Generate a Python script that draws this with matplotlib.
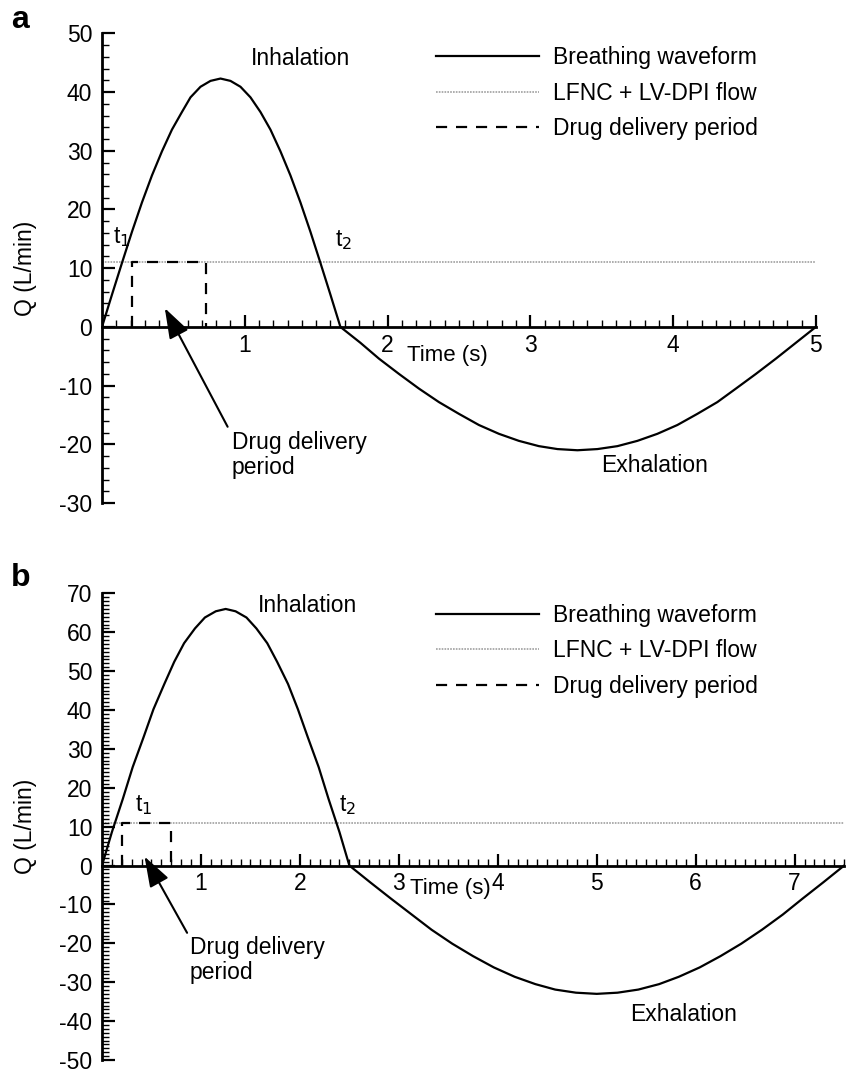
import matplotlib
matplotlib.use("Agg")
import matplotlib.pyplot as plt
from matplotlib.ticker import MultipleLocator
from matplotlib.lines import Line2D

plt.rcParams['font.family'] = ['Liberation Sans', 'DejaVu Sans']
plt.rcParams['axes.unicode_minus'] = False

###############################################################################
# data
# panel a : 5 s breathing cycle
t_a = [0, 0.07, 0.14, 0.21, 0.28, 0.35, 0.42, 0.49, 0.56, 0.62, 0.69, 0.76, 0.83,
       0.9, 0.97, 1.04, 1.11, 1.18, 1.25, 1.32, 1.39, 1.46, 1.53, 1.6, 1.67,
       1.81, 1.94, 2.08, 2.22, 2.36, 2.5, 2.64, 2.78, 2.92, 3.06, 3.19, 3.33,
       3.47, 3.61, 3.75, 3.89, 4.03, 4.17, 4.31, 4.44, 4.58, 4.72, 4.86, 5.0]
q_a = [0, 5.5, 10.9, 16.2, 21.2, 25.8, 29.9, 33.6, 36.6, 39.1, 40.9, 41.9, 42.3,
       41.9, 40.9, 39.1, 36.6, 33.6, 29.9, 25.8, 21.2, 16.2, 10.9, 5.5, 0,
       -2.7, -5.4, -8.0, -10.5, -12.8, -14.8, -16.7, -18.2, -19.4, -20.3, -20.8, -21.0,
       -20.8, -20.3, -19.4, -18.2, -16.7, -14.8, -12.8, -10.5, -8.0, -5.4, -2.7, 0]
box_t_a = [0.21, 0.21, 0.73, 0.73]

# panel b : 7.5 s breathing cycle
t_b = [0, 0.1, 0.21, 0.31, 0.42, 0.52, 0.63, 0.73, 0.83, 0.94, 1.04, 1.15, 1.25,
       1.35, 1.46, 1.56, 1.67, 1.77, 1.88, 1.98, 2.08, 2.19, 2.29, 2.4, 2.5,
       2.71, 2.92, 3.13, 3.33, 3.54, 3.75, 3.96, 4.17, 4.38, 4.58, 4.79, 5.0,
       5.21, 5.42, 5.63, 5.83, 6.04, 6.25, 6.46, 6.67, 6.88, 7.08, 7.29, 7.5]
q_b = [0, 8.6, 17.1, 25.3, 33.0, 40.2, 46.7, 52.4, 57.2, 61.0, 63.8, 65.4, 66.0,
       65.4, 63.8, 61.0, 57.2, 52.4, 46.7, 40.2, 33.0, 25.3, 17.1, 8.6, 0,
       -4.3, -8.5, -12.6, -16.5, -20.1, -23.3, -26.2, -28.6, -30.5, -31.9, -32.7, -33.0,
       -32.7, -31.9, -30.5, -28.6, -26.2, -23.3, -20.1, -16.5, -12.6, -8.5, -4.3, 0]
box_t_b = [0.2, 0.2, 0.7, 0.7]

box_q = [0, 11, 11, 0]
flow = 11

legend_labels = ["Breathing waveform", "LFNC + LV-DPI flow", "Drug delivery period"]

FS = 16.5

###############################################################################
# draw_panel draws one breathing waveform panel
def draw_panel(ax, t, q, box_t, xmax, ylim, ymajor, yminor, xmajor_ticks,
               arrow_tip, arrow_tail, t1_pos, t2_pos, inh_pos, exh_pos, time_pos,
               legend_anchor):
    ax.plot(t, q, color='black', lw=1.6)
    ax.axhline(flow, color='#a0a0a0', lw=1.2, ls=(0, (1, 0.7)), zorder=0)
    ax.plot(box_t, box_q, color='black', lw=1.6, ls=(0, (5, 4)))

    ax.set_xlim(0, xmax)
    ax.set_ylim(*ylim)

    for s in ['top', 'right']:
        ax.spines[s].set_visible(False)
    ax.spines['bottom'].set_position(('data', 0))
    ax.spines['bottom'].set_linewidth(2)
    ax.spines['left'].set_linewidth(2)
    ax.spines['bottom'].set_bounds(0, xmax)

    ax.set_xticks(xmajor_ticks)
    ax.set_xticklabels([str(v) for v in xmajor_ticks])
    ax.xaxis.set_minor_locator(MultipleLocator(0.1))
    ax.yaxis.set_major_locator(MultipleLocator(ymajor))
    ax.yaxis.set_minor_locator(MultipleLocator(yminor))

    ax.tick_params(axis='x', which='major', direction='in', length=9, width=1.6,
                   labelsize=FS, pad=5)
    ax.tick_params(axis='x', which='minor', direction='in', length=5, width=1)
    ax.tick_params(axis='y', which='major', direction='in', length=9, width=1.6,
                   labelsize=FS, pad=7)
    ax.tick_params(axis='y', which='minor', direction='in', length=5, width=1)

    ax.set_ylabel("Q (L/min)", fontsize=FS, labelpad=16)

    ax.annotate("", xy=arrow_tip, xytext=arrow_tail,
                arrowprops=dict(arrowstyle='-|>,head_length=1.1,head_width=0.38',
                                color='black', lw=1.5, mutation_scale=17,
                                shrinkA=0, shrinkB=0))
    ax.text(arrow_tail[0] + 0.03, arrow_tail[1] - 0.8, "Drug delivery\nperiod",
            fontsize=FS, ha='left', va='top', linespacing=1.1)

    ax.text(*t1_pos, "t$_1$", fontsize=FS, ha='left', va='center')
    ax.text(*t2_pos, "t$_2$", fontsize=FS, ha='left', va='center')
    ax.text(*inh_pos, "Inhalation", fontsize=FS, ha='center', va='center')
    ax.text(*exh_pos, "Exhalation", fontsize=FS, ha='center', va='center')
    ax.text(*time_pos, "Time (s)", fontsize=FS - 0.5, ha='center', va='center')

    handles = [Line2D([], [], color='black', lw=1.6),
               Line2D([], [], color='#a0a0a0', lw=1.2, ls=(0, (1, 0.7))),
               Line2D([], [], color='black', lw=1.6, ls=(0, (5, 4)))]
    ax.legend(handles, legend_labels, loc='upper left', bbox_to_anchor=legend_anchor,
              bbox_transform=fig.transFigure, frameon=False, fontsize=FS,
              handlelength=4.5, handletextpad=0.6, labelspacing=0.53)


fig = plt.figure(figsize=(8.57, 10.75), dpi=100)
ax_a = fig.add_axes([0.119, 0.532, 0.833, 0.437])
ax_b = fig.add_axes([0.119, 0.014, 0.866, 0.434])

draw_panel(ax_a, t_a, q_a, box_t_a, 5, (-30, 50), 10, 2, [1, 2, 3, 4, 5],
           arrow_tip=(0.44, 3.2), arrow_tail=(0.88, -17),
           t1_pos=(0.08, 15.3), t2_pos=(1.63, 14.8),
           inh_pos=(1.39, 45.7), exh_pos=(3.87, -23.6), time_pos=(2.42, -4.8),
           legend_anchor=(0.485, 0.976))

draw_panel(ax_b, t_b, q_b, box_t_b, 7.5, (-50, 70), 10, 1, [1, 2, 3, 4, 5, 6, 7],
           arrow_tip=(0.43, 2.3), arrow_tail=(0.86, -17.3),
           t1_pos=(0.33, 15.5), t2_pos=(2.4, 15.5),
           inh_pos=(2.08, 67), exh_pos=(5.88, -38.4), time_pos=(3.52, -5.9),
           legend_anchor=(0.485, 0.457))

fig.text(0.013, 0.981, "a", fontsize=23, fontweight='bold', va='center')
fig.text(0.013, 0.462, "b", fontsize=23, fontweight='bold', va='center')

plt.savefig("out.png", dpi=100)
